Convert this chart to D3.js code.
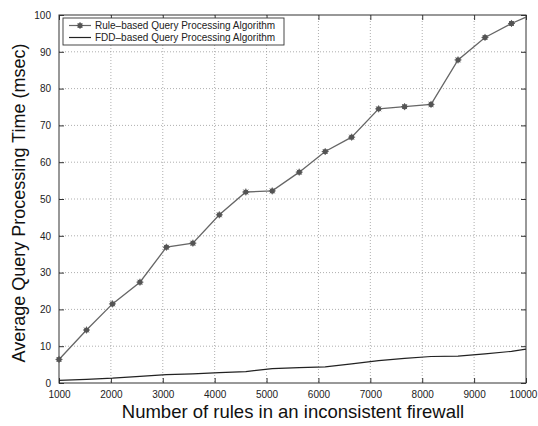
<!DOCTYPE html>
<html>
<head>
<meta charset="utf-8">
<script src="https://cdn.jsdelivr.net/npm/d3@7"></script>
<style>
  body { margin: 0; background: #fff; }
  text { font-family: "Liberation Sans", Arial, sans-serif; }
</style>
</head>
<body>
<div id="main"></div>
<script>
// rules in firewall (x)
var ruleCounts = [1000, 1530, 2030, 2560, 3070, 3580, 4090, 4600, 5110, 5630, 6130, 6640, 7160, 7660, 8170, 8690, 9210, 9720, 10000];
var ruleBased = [6.4, 14.4, 21.5, 27.4, 36.9, 38.0, 45.7, 51.9, 52.2, 57.3, 62.9, 66.8, 74.5, 75.1, 75.7, 87.8, 93.9, 97.7, 99.4];
var fddBased = [0.7, 1.0, 1.3, 1.8, 2.3, 2.5, 2.8, 3.1, 3.9, 4.2, 4.4, 5.2, 6.1, 6.7, 7.2, 7.3, 7.9, 8.6, 9.2];
var xTicks = [1000, 2000, 3000, 4000, 5000, 6000, 7000, 8000, 9000, 10000];
var yTicks = [0, 10, 20, 30, 40, 50, 60, 70, 80, 90, 100];
var seriesNames = ['Rule\u2013based Query Processing Algorithm', 'FDD\u2013based Query Processing Algorithm'];

var width = 538, height = 426;
var plotLeft = 59, plotRight = 526, plotTop = 15, plotBottom = 383;

var svg = d3.select('#main').append('svg').attr('width', width).attr('height', height);

var x = d3.scaleLinear().domain([1000, 10000]).range([plotLeft, plotRight]);
var y = d3.scaleLinear().domain([0, 100]).range([plotBottom, plotTop]);

// grid
svg.append('g').selectAll('line').data(xTicks.slice(1, -1)).enter().append('line')
  .attr('x1', function (d) { return x(d) }).attr('x2', function (d) { return x(d) })
  .attr('y1', plotTop).attr('y2', plotBottom)
  .attr('stroke', '#999').attr('stroke-width', 0.8).attr('stroke-dasharray', '1,2');
svg.append('g').selectAll('line').data(yTicks.slice(1, -1)).enter().append('line')
  .attr('y1', function (d) { return y(d) }).attr('y2', function (d) { return y(d) })
  .attr('x1', plotLeft).attr('x2', plotRight)
  .attr('stroke', '#999').attr('stroke-width', 0.8).attr('stroke-dasharray', '1,2');

// axes, ticks pointing in
var xAxis = svg.append('g').attr('transform', 'translate(0,' + plotBottom + ')')
  .call(d3.axisBottom(x).tickValues(xTicks).tickSize(-5).tickPadding(8).tickFormat(d3.format('d')))
  .call(function (g) { g.select('.domain').remove() });
// last label sits on the page edge, nudge it in a little
xAxis.selectAll('.tick').filter(function (d) { return d === 10000 }).select('text').attr('dx', -3);
svg.append('g').attr('transform', 'translate(0,' + plotTop + ')')
  .call(d3.axisTop(x).tickValues(xTicks).tickSize(-5).tickFormat(''))
  .call(function (g) { g.select('.domain').remove() });
svg.append('g').attr('transform', 'translate(' + plotLeft + ',0)')
  .call(d3.axisLeft(y).tickValues(yTicks).tickSize(-5).tickPadding(8))
  .call(function (g) { g.select('.domain').remove() });
svg.append('g').attr('transform', 'translate(' + plotRight + ',0)')
  .call(d3.axisRight(y).tickValues(yTicks).tickSize(-5).tickFormat(''))
  .call(function (g) { g.select('.domain').remove() });

svg.selectAll('.tick line').attr('stroke', '#333');
svg.selectAll('.tick text').attr('font-size', 10).attr('fill', '#222')
  .style('font-family', '"Liberation Sans", Arial, sans-serif');

svg.append('rect').attr('x', plotLeft).attr('y', plotTop).attr('width', plotRight - plotLeft).attr('height', plotBottom - plotTop)
  .attr('fill', 'none').attr('stroke', '#333').attr('stroke-width', 1);

var line = d3.line()
  .x(function (d) { return x(d[0]) })
  .y(function (d) { return y(d[1]) });

var rulePts = ruleCounts.map(function (c, i) { return [c, ruleBased[i]] });
var fddPts = ruleCounts.map(function (c, i) { return [c, fddBased[i]] });

svg.append('path').datum(fddPts)
  .attr('fill', 'none').attr('stroke', '#222').attr('stroke-width', 1.2).attr('d', line);
svg.append('path').datum(rulePts)
  .attr('fill', 'none').attr('stroke', '#666').attr('stroke-width', 1.3).attr('d', line);

function drawStar(g, cx, cy) {
  g.append('circle').attr('cx', cx).attr('cy', cy).attr('r', 2.6).attr('fill', '#555').attr('stroke', 'none');
  var r = 3.5;
  [[-r, 0, r, 0], [0, -r, 0, r], [-r * 0.7, -r * 0.7, r * 0.7, r * 0.7], [-r * 0.7, r * 0.7, r * 0.7, -r * 0.7]].forEach(function (s) {
    g.append('line').attr('x1', cx + s[0]).attr('y1', cy + s[1]).attr('x2', cx + s[2]).attr('y2', cy + s[3])
      .attr('stroke', '#555').attr('stroke-width', 0.9);
  });
}

var markers = svg.append('g');
rulePts.slice(0, -1).forEach(function (d) { drawStar(markers, x(d[0]), y(d[1])) });

// legend
var lg = svg.append('g');
lg.append('rect').attr('x', 63).attr('y', 18).attr('width', 221).attr('height', 27)
  .attr('fill', '#fff').attr('stroke', '#333').attr('stroke-width', 0.9);
lg.append('line').attr('x1', 69).attr('x2', 91).attr('y1', 25.5).attr('y2', 25.5).attr('stroke', '#666').attr('stroke-width', 1.2);
drawStar(lg, 80, 25.5);
lg.append('line').attr('x1', 69).attr('x2', 91).attr('y1', 37.5).attr('y2', 37.5).attr('stroke', '#222').attr('stroke-width', 1.2);
lg.selectAll('.lt').data(seriesNames).enter().append('text')
  .attr('x', 95).attr('y', function (d, i) { return 29 + i * 12 })
  .attr('font-size', 10).attr('fill', '#222').text(function (d) { return d });

// axis titles
svg.append('text').attr('x', 293).attr('y', 418).attr('text-anchor', 'middle')
  .attr('font-size', 18.5).attr('fill', '#111').text('Number of rules in an inconsistent firewall');
svg.append('text').attr('transform', 'translate(25,' + ((plotTop + plotBottom) / 2 + 4) + ') rotate(-90)')
  .attr('text-anchor', 'middle').attr('font-size', 18).attr('fill', '#111')
  .text('Average Query Processing Time (msec)');
</script>
</body>
</html>
